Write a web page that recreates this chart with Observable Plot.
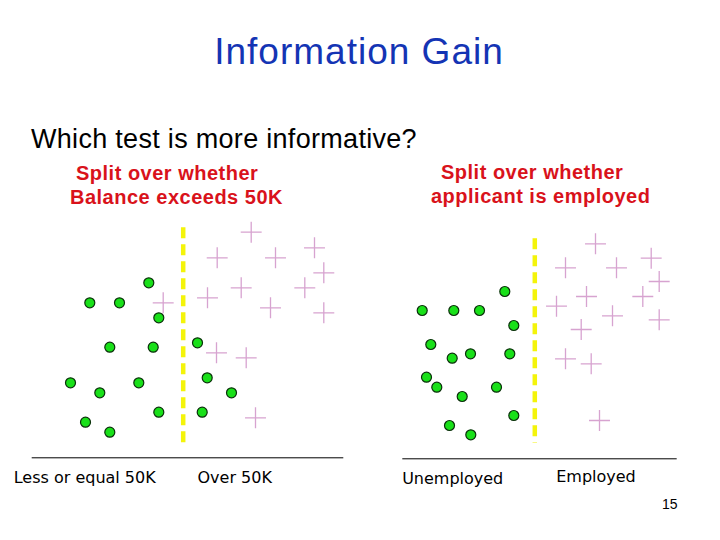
<!DOCTYPE html>
<html>
<head>
<meta charset="utf-8">
<script src="https://cdn.jsdelivr.net/npm/d3@7"></script>
<script src="https://cdn.jsdelivr.net/npm/@observablehq/plot@0.6"></script>
<style>
  html, body { margin: 0; padding: 0; background: #fff; }
  #slide { position: relative; width: 720px; height: 540px; overflow: hidden; }
  #header { position: relative; width: 720px; height: 215px; }
  .t { position: absolute; white-space: pre; margin: 0; }
  #title { left: 0; width: 718px; text-align: center; top: 32.7px; font: 37px/37px "Liberation Sans", Arial, sans-serif; letter-spacing: 1px; color: #1434b4; }
  #question { left: 31px; top: 126.4px; font: 27px/27px "Liberation Sans", Arial, sans-serif; letter-spacing: 0.3px; color: #000; }
  .red { font: bold 20px/20px "Liberation Sans", Arial, sans-serif; letter-spacing: 0.5px; color: #d9121b; }
  #page { left: 662px; top: 497px; font: 14px/14px "Liberation Sans", Arial, sans-serif; color: #000; }
  #chart { position: absolute; left: 0; top: 215px; }
</style>
</head>
<body>
<div id="slide">
  <div id="header">
    <div class="t" id="title">Information Gain</div>
    <div class="t" id="question">Which test is more informative?</div>
    <div class="t red" style="left:76px; top:162.5px;">Split over whether</div>
    <div class="t red" style="left:70px; top:186.5px;">Balance exceeds 50K</div>
    <div class="t red" style="left:441px; top:161.5px;">Split over whether</div>
    <div class="t red" style="left:431px; top:185.5px;">applicant is employed</div>
  </div>
  <div id="chart"></div>
  <div class="t" id="page">15</div>
</div>
<script>
// ---- Data (horizontal position, vertical position) ----
// Left test: "Balance exceeds 50K"
const leftCircleX = [148.3, 89.3, 119, 158.3, 109.3, 152.7, 197, 70, 99.3, 138.3, 206.7, 231, 158.3, 201.7, 85, 109.3];
const leftCircleY = [282.3, 302.3, 302.3, 317.3, 346.7, 346.7, 342.3, 382.3, 392.3, 382.3, 377.3, 392.3, 411.7, 411.7, 421.7, 431.7];
const leftPlusX = [250.7, 216.7, 275, 314, 323.3, 240.7, 304.3, 207, 162.7, 270, 323.3, 216, 245.7, 255];
const leftPlusY = [231.7, 257.3, 257.3, 247.3, 272.3, 287.3, 287.3, 297.3, 302.3, 307.3, 312.3, 352.3, 357.3, 417.3];
// Right test: "applicant is employed"
const rightCircleX = [504.3, 421.7, 453.3, 479, 513.3, 430.3, 451.7, 470, 509.3, 426, 436.3, 461.7, 496, 513.3, 449, 470.3];
const rightCircleY = [291, 310, 310, 310, 325, 344, 357.7, 353.3, 353.3, 376.7, 386.7, 396, 386.7, 415, 425, 434.3];
const rightPlusX = [595, 565, 616, 650.7, 658.7, 586, 556, 642.3, 612, 658.7, 580.7, 565, 590.7, 599];
const rightPlusY = [243.3, 267.3, 267.3, 257.7, 281, 296, 305.7, 296, 315.3, 319.3, 329, 358.3, 363.3, 420];

// Split lines and baselines
const splitX = [182.7, 534.3];
const splitTop = [227.3, 238.3];
const splitBottom = [447.3, 442.7];
const baseY = [457.3, 458.3];
const baseStart = [31.7, 402.3];
const baseEnd = [343.3, 676.7];

// Category labels
const catLabels = ["Less or equal 50K", "Over 50K", "Unemployed", "Employed"];
const catX = [84.2, 234.2, 452.2, 595.5];
const catY = [477.5, 477.5, 478, 476];

// ---- Build tables ----
const circles = leftCircleX.map((x, i) => ({x, y: leftCircleY[i]}))
  .concat(rightCircleX.map((x, i) => ({x, y: rightCircleY[i]})));
const pluses = leftPlusX.map((x, i) => ({x, y: leftPlusY[i]}))
  .concat(rightPlusX.map((x, i) => ({x, y: rightPlusY[i]})));
const splits = splitX.map((x, i) => ({x, y1: splitTop[i], y2: splitBottom[i]}));
const bases = baseY.map((y, i) => ({y, x1: baseStart[i], x2: baseEnd[i]}));
const cats = catLabels.map((label, i) => ({label, x: catX[i], y: catY[i]}));

const chart = Plot.plot({
  width: 720,
  height: 290,
  margin: 0,
  x: {domain: [0, 720], axis: null},
  y: {domain: [505, 215], axis: null},
  style: {background: "transparent", overflow: "visible"},
  marks: [
    Plot.ruleY(bases, {y: "y", x1: "x1", x2: "x2", stroke: "#000", strokeWidth: 1}),
    Plot.ruleX(splits, {x: "x", y1: "y1", y2: "y2", stroke: "#f4f40a", strokeWidth: 4.5, strokeDasharray: "11,6"}),
    Plot.dot(pluses, {x: "x", y: "y", symbol: "plus", r: 6.8, stroke: "#d7a3d0", strokeWidth: 1.3, fill: "none"}),
    Plot.dot(circles, {x: "x", y: "y", r: 5, fill: "#19e019", stroke: "#0a300a", strokeWidth: 1.2}),
    Plot.text(cats, {x: "x", y: "y", text: "label", fontSize: 16, fontFamily: "DejaVu Sans, sans-serif", fill: "#000"})
  ]
});
document.getElementById("chart").appendChild(chart);
</script>
</body>
</html>
